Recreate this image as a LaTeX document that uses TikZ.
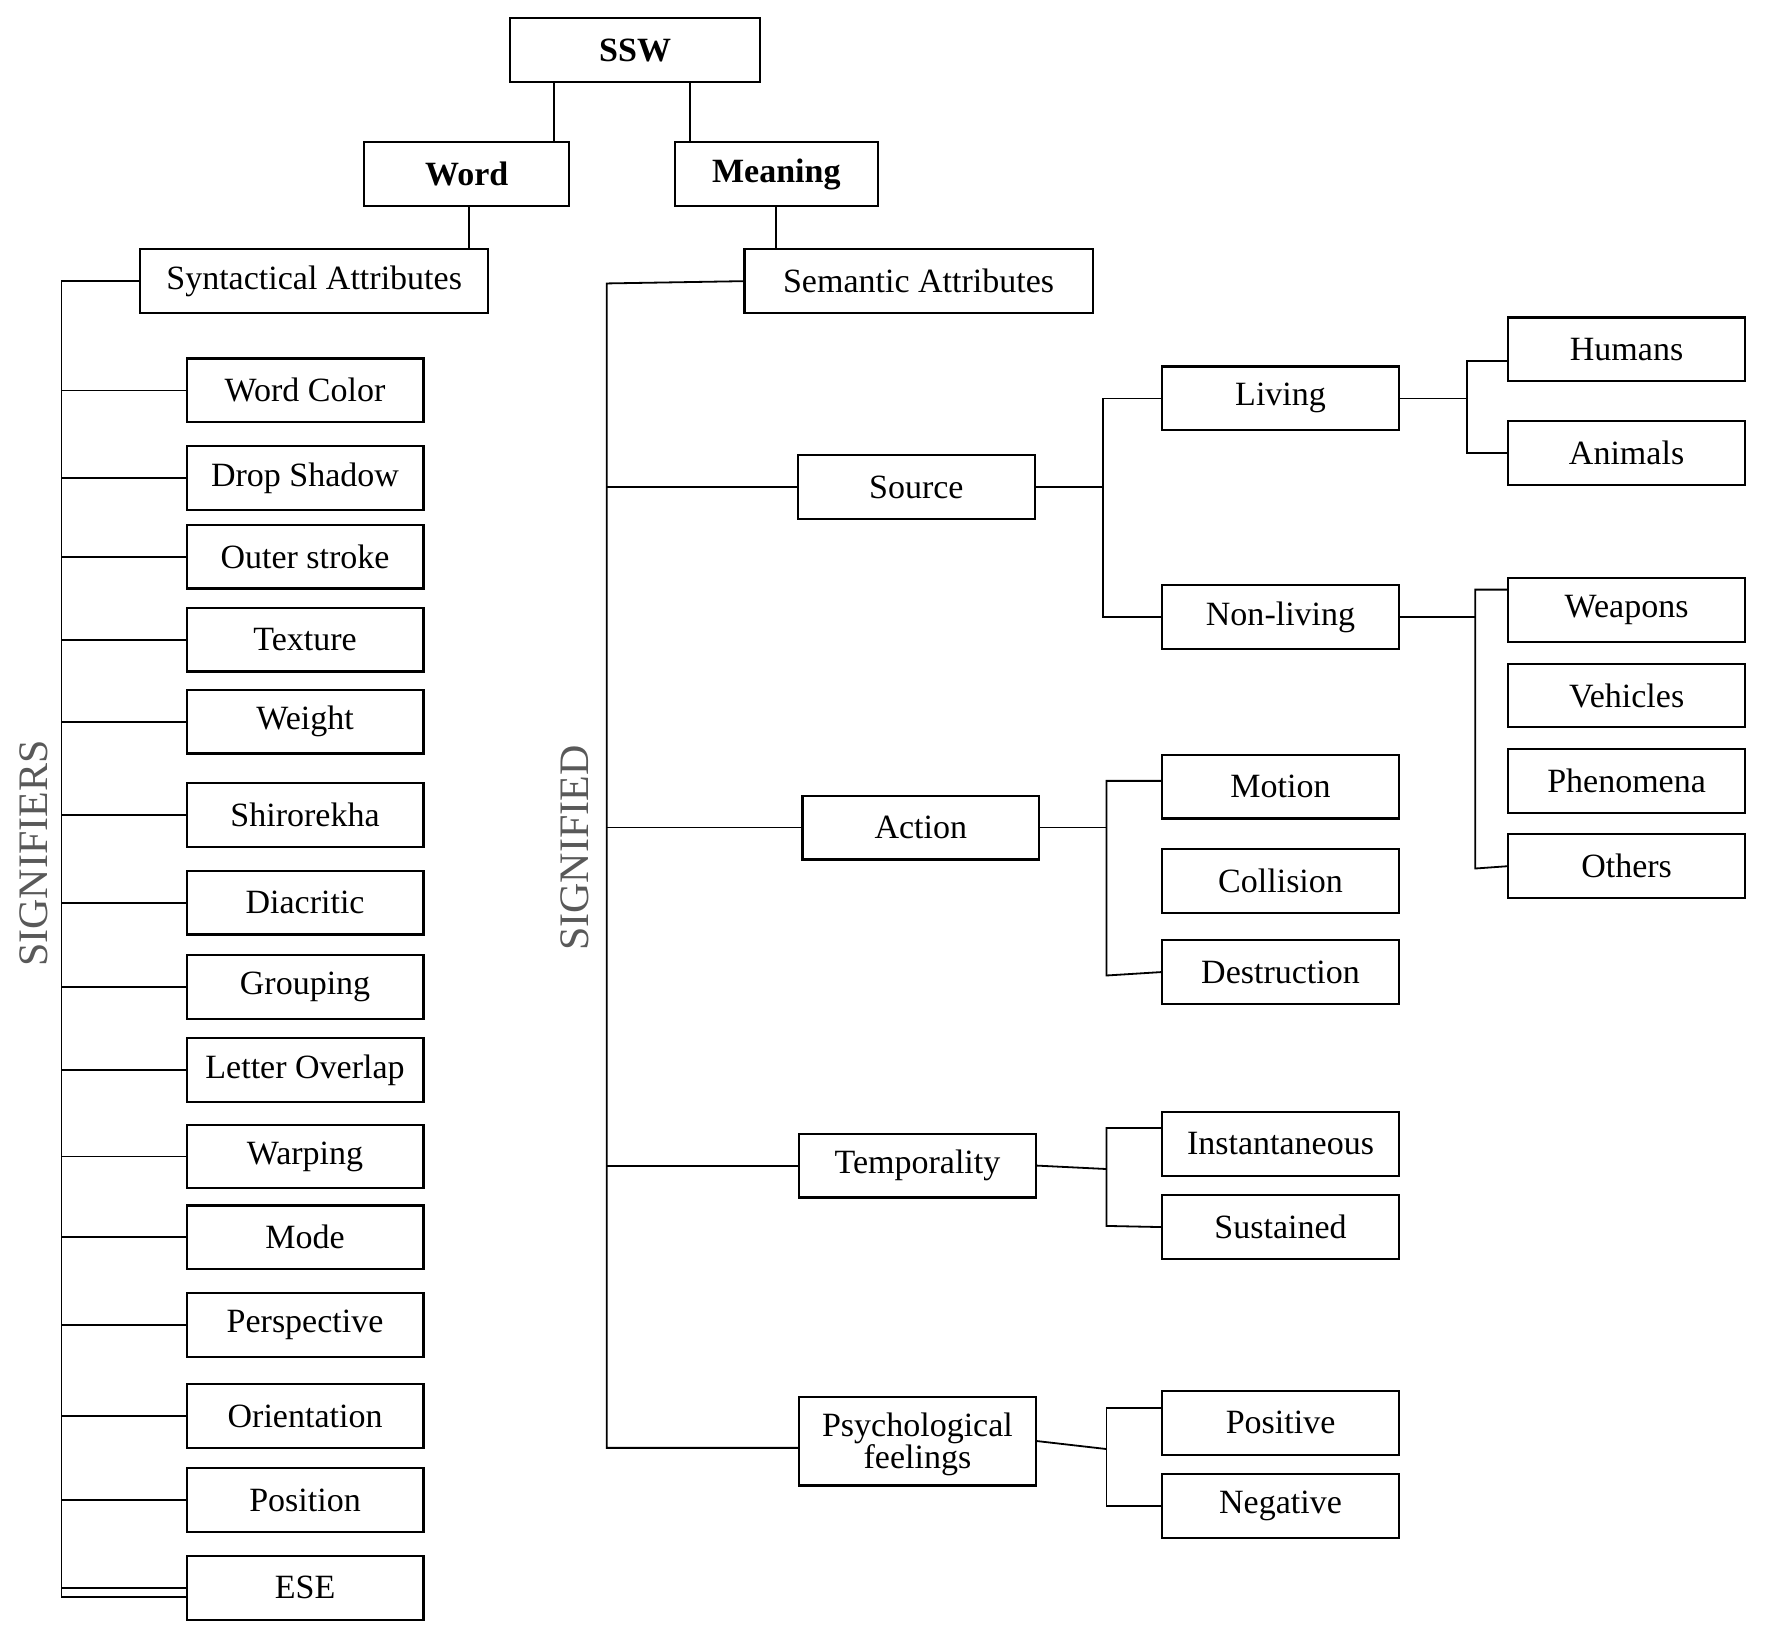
\documentclass[tikz,border=0pt]{standalone}
\usepackage{fontspec}
\setmainfont{Liberation Serif}
\begin{document}
\begin{tikzpicture}[x=0.2mm,y=-0.2mm,
  box/.style={draw,line width=1.1pt,minimum width=4.16cm,minimum height=1.12cm,inner sep=0pt,align=center,font=\fontsize{17}{19}\selectfont},
  ln/.style={line width=0.9pt},
  side/.style={rotate=90,text=black!65,font=\fontsize{21}{23}\selectfont}]
\useasboundingbox (0,0) rectangle (1555,1430);
\node[box,minimum width=4.4cm,font=\fontsize{17}{19}\selectfont\bfseries] (ssw) at (558,44) {SSW};
\node[box,minimum width=3.6cm,font=\fontsize{17}{19}\selectfont\bfseries] (word) at (410,153) {Word};
\node[box,minimum width=3.56cm,font=\fontsize{17}{19}\selectfont\bfseries] (meaning) at (682,153) {Meaning};
\node[box,minimum width=6.12cm] (synt) at (276,247) {Syntactical Attributes};
\node[box,minimum width=6.12cm] (sem) at (807,247) {Semantic Attributes};
\draw[ln] (ssw.south -| word.north) ++(77,0) -- ++(0,53);
\draw[ln] (487,72) -- (487,125);
\draw[ln] (606,72) -- (606,125);
\draw[ln] (word.south) ++(2,0) -- (412,219);
\draw[ln] (meaning.south) -- (sem.north -| meaning.south);
% left
\coordinate (ls) at (54,247);
\draw[ln] (synt.west) -- (ls) -- (54,1403) -- (164,1403);
\foreach \t/\y [count=\i] in {Word Color/343,Drop Shadow/420,Outer stroke/489,Texture/562,Weight/634,Shirorekha/716,Diacritic/793,Grouping/867,Letter Overlap/940,Warping/1016,Mode/1087,Perspective/1164,Orientation/1244,Position/1318,ESE/1395}{
  \node[box] (l\i) at (268,\y) {\t};
  \draw[ln] (l\i.west) -- (l\i.west -| ls);
}
\node[side] (sfr) at (30,750) {SIGNIFIERS};
% right
\coordinate (rs) at (533,249);
\node[side] (sfd) at (505,745) {SIGNIFIED};
\node[box] (src) at (805,428) {Source};
\node[box] (act) at (809,727) {Action};
\node[box] (tmp) at (806,1024) {Temporality};
\node[box,minimum height=1.56cm,text depth=0pt] (psy) at (806,1266) {Psychological\\[-3pt]feelings};
\draw[ln] (sem.west) -- (rs) -- (533,1272) -- (psy.west |- 0,1272);
\foreach \n in {src,act,tmp}{\draw[ln] (\n.west) -- (\n.west -| rs);}
\node[box] (liv) at (1125,350) {Living};
\node[box] (non) at (1125,542) {Non-living};
\node[box] (hum) at (1429,307) {Humans};
\node[box] (ani) at (1429,398) {Animals};
\node[box] (wea) at (1429,536) {Weapons};
\node[box] (veh) at (1429,611) {Vehicles};
\node[box] (phe) at (1429,686) {Phenomena};
\node[box] (oth) at (1429,761) {Others};
\node[box] (mot) at (1125,691) {Motion};
\node[box] (col) at (1125,774) {Collision};
\node[box] (des) at (1125,854) {Destruction};
\node[box] (ins) at (1125,1005) {Instantaneous};
\node[box] (sus) at (1125,1078) {Sustained};
\node[box] (pos) at (1125,1250) {Positive};
\node[box] (neg) at (1125,1323) {Negative};
\draw[ln] (src.east) -- (969,428);
\draw[ln] (liv.west) -- (969,350) -- (969,542) -- (non.west);
\draw[ln] (liv.east) -- (1289,350);
\draw[ln] (hum.west) ++(0,10) -- (1289,317) -- (1289,398) -- (ani.west);
\draw[ln] (non.east) -- (1296,542);
\draw[ln] (wea.west) ++(0,-18) -- (1296,518) -- (1296,763) -- (oth.west);
\draw[ln] (act.east) -- (972,727);
\draw[ln] (mot.west) ++(0,-5) -- (972,686) -- (972,857) -- (des.west);
\draw[ln] (tmp.east) -- (972,1027);
\draw[ln] (ins.west) ++(0,-14) -- (972,991) -- (972,1077) -- (sus.west);
\draw[ln] (psy.east) -- (972,1273);
\draw[ln] (pos.west) ++(0,-13) -- (972,1237) -- (972,1323) -- (neg.west);
\end{tikzpicture}
\end{document}
